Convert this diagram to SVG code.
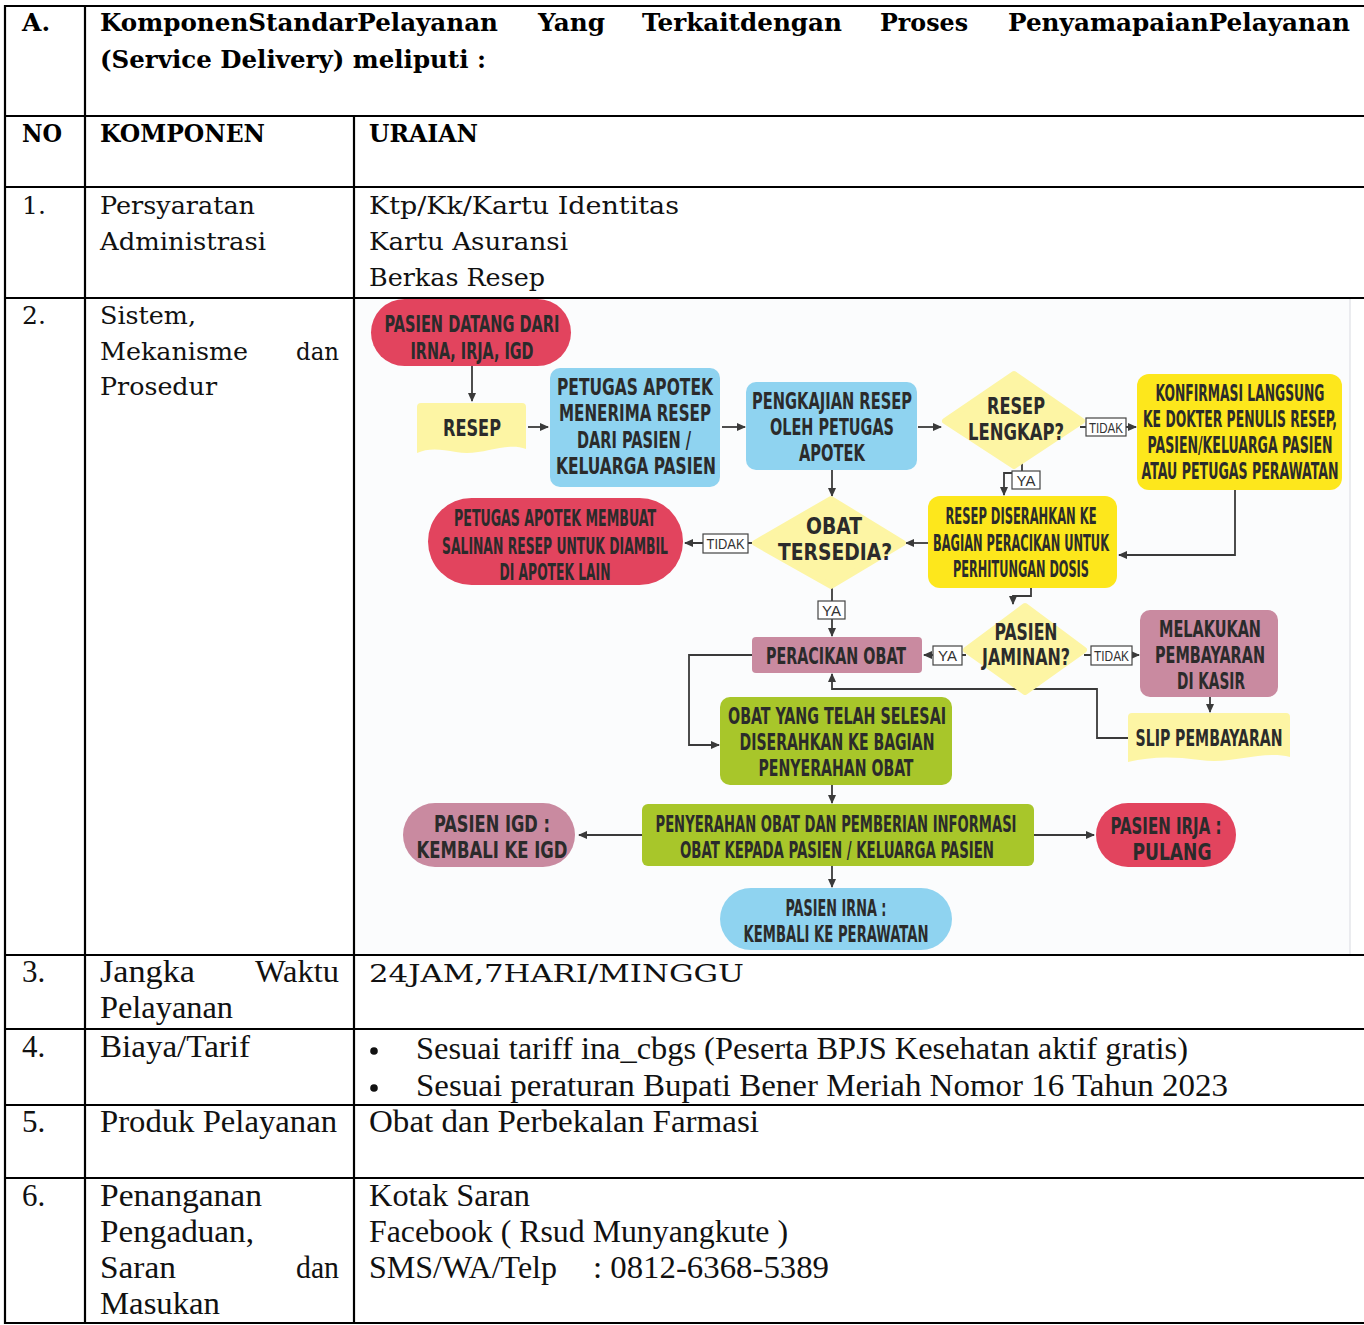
<svg xmlns="http://www.w3.org/2000/svg" width="1364" height="1325" viewBox="0 0 1364 1325">
<defs>
<marker id="ah" markerWidth="9" markerHeight="8" refX="8" refY="4" orient="auto" markerUnits="userSpaceOnUse">
<path d="M0,0 L9,4 L0,8 Z" fill="#3a3a3a"/>
</marker>
<style>
.grid line{stroke:#000;stroke-width:2.2}
.bk{font-family:"DejaVu Serif","Liberation Serif",serif;font-size:25px;fill:#111}
.bkb{font-family:"DejaVu Serif","Liberation Serif",serif;font-size:25px;font-weight:bold;fill:#000}
.tm{font-family:"Liberation Serif","Times New Roman",serif;font-size:31px;fill:#111}
.ft{font-family:"Liberation Sans Narrow","Arial Narrow","DejaVu Sans Condensed","Liberation Sans",sans-serif;font-weight:bold;font-size:23px;fill:#2b2b2b;text-anchor:middle}
.lb{font-family:"Liberation Sans Narrow","Liberation Sans",sans-serif;font-size:15px;fill:#333;text-anchor:middle}
.lbox{fill:#fff;stroke:#444;stroke-width:1.2}
.conn path,.conn line{fill:none;stroke:#3a3a3a;stroke-width:1.8}
.red{fill:#e2445e}
.blue{fill:#8fd3f0}
.lyel{fill:#fdf5a4}
.yel{fill:#fde71c}
.mauve{fill:#c98aa0}
.green{fill:#a8c62a}
.dia{stroke-linejoin:round;stroke-width:6}
</style>
</defs>
<rect width="1364" height="1325" fill="#fff"/>

<!-- flowchart background -->
<rect x="356" y="299" width="994" height="655" fill="#fbfcfd"/>
<line x1="1350" y1="299" x2="1350" y2="954" stroke="#e4e6ea" stroke-width="1.5"/>

<!-- table grid -->
<g class="grid">
<line x1="4" y1="6" x2="1364" y2="6"/>
<line x1="4" y1="116" x2="1364" y2="116"/>
<line x1="4" y1="187" x2="1364" y2="187"/>
<line x1="4" y1="298" x2="1364" y2="298"/>
<line x1="4" y1="955" x2="1364" y2="955"/>
<line x1="4" y1="1029" x2="1364" y2="1029"/>
<line x1="4" y1="1105" x2="1364" y2="1105"/>
<line x1="4" y1="1178" x2="1364" y2="1178"/>
<line x1="4" y1="1323" x2="1364" y2="1323"/>
<line x1="5" y1="5" x2="5" y2="1324"/>
<line x1="85" y1="5" x2="85" y2="1324"/>
<line x1="354" y1="116" x2="354" y2="1324"/>
</g>

<!-- table text -->
<g id="table-text">
<text class="bkb" x="22" y="31">A.</text>
<text class="bkb" x="100" y="31" textLength="398" lengthAdjust="spacingAndGlyphs">KomponenStandarPelayanan</text>
<text class="bkb" x="538" y="31" textLength="67" lengthAdjust="spacingAndGlyphs">Yang</text>
<text class="bkb" x="642" y="31" textLength="200" lengthAdjust="spacingAndGlyphs">Terkaitdengan</text>
<text class="bkb" x="880" y="31" textLength="88" lengthAdjust="spacingAndGlyphs">Proses</text>
<text class="bkb" x="1008" y="31" textLength="342" lengthAdjust="spacingAndGlyphs">PenyamapaianPelayanan</text>
<text class="bkb" x="100" y="68" textLength="386" lengthAdjust="spacingAndGlyphs">(Service Delivery) meliputi :</text>

<text class="bkb" x="22" y="142" textLength="40" lengthAdjust="spacingAndGlyphs">NO</text>
<text class="bkb" x="100" y="142" textLength="165" lengthAdjust="spacingAndGlyphs">KOMPONEN</text>
<text class="bkb" x="369" y="142" textLength="109" lengthAdjust="spacingAndGlyphs">URAIAN</text>

<text class="bk" x="22" y="214">1.</text>
<text class="bk" x="100" y="214" textLength="155" lengthAdjust="spacingAndGlyphs">Persyaratan</text>
<text class="bk" x="100" y="250" textLength="166" lengthAdjust="spacingAndGlyphs">Administrasi</text>
<text class="bk" x="369" y="214" textLength="310" lengthAdjust="spacingAndGlyphs">Ktp/Kk/Kartu Identitas</text>
<text class="bk" x="369" y="250" textLength="199" lengthAdjust="spacingAndGlyphs">Kartu Asuransi</text>
<text class="bk" x="369" y="286" textLength="176" lengthAdjust="spacingAndGlyphs">Berkas Resep</text>

<text class="bk" x="22" y="324">2.</text>
<text class="bk" x="100" y="324" textLength="96" lengthAdjust="spacingAndGlyphs">Sistem,</text>
<text class="bk" x="100" y="360" textLength="148" lengthAdjust="spacingAndGlyphs">Mekanisme</text>
<text class="bk" x="296" y="360" textLength="43" lengthAdjust="spacingAndGlyphs">dan</text>
<text class="bk" x="100" y="395" textLength="117" lengthAdjust="spacingAndGlyphs">Prosedur</text>

<text class="tm" x="22" y="982">3.</text>
<text class="tm" x="100" y="982" textLength="95" lengthAdjust="spacingAndGlyphs">Jangka</text>
<text class="tm" x="255" y="982" textLength="84" lengthAdjust="spacingAndGlyphs">Waktu</text>
<text class="tm" x="100" y="1018" textLength="133" lengthAdjust="spacingAndGlyphs">Pelayanan</text>
<text class="bk" x="369" y="982" font-size="26" textLength="375" lengthAdjust="spacingAndGlyphs">24JAM,7HARI/MINGGU</text>

<text class="tm" x="22" y="1057">4.</text>
<text class="tm" x="100" y="1057" textLength="150" lengthAdjust="spacingAndGlyphs">Biaya/Tarif</text>
<circle cx="374" cy="1051" r="3.8" fill="#111"/>
<circle cx="374" cy="1088" r="3.8" fill="#111"/>
<text class="tm" x="416" y="1059" textLength="772" lengthAdjust="spacingAndGlyphs">Sesuai tariff ina_cbgs (Peserta BPJS Kesehatan aktif gratis)</text>
<text class="tm" x="416" y="1096" textLength="812" lengthAdjust="spacingAndGlyphs">Sesuai peraturan Bupati Bener Meriah Nomor 16 Tahun 2023</text>

<text class="tm" x="22" y="1132">5.</text>
<text class="tm" x="100" y="1132" textLength="237" lengthAdjust="spacingAndGlyphs">Produk Pelayanan</text>
<text class="tm" x="369" y="1132" textLength="390" lengthAdjust="spacingAndGlyphs">Obat dan Perbekalan Farmasi</text>

<text class="tm" x="22" y="1206">6.</text>
<text class="tm" x="100" y="1206" textLength="162" lengthAdjust="spacingAndGlyphs">Penanganan</text>
<text class="tm" x="100" y="1242" textLength="154" lengthAdjust="spacingAndGlyphs">Pengaduan,</text>
<text class="tm" x="100" y="1278" textLength="76" lengthAdjust="spacingAndGlyphs">Saran</text>
<text class="tm" x="296" y="1278" textLength="43" lengthAdjust="spacingAndGlyphs">dan</text>
<text class="tm" x="100" y="1314" textLength="120" lengthAdjust="spacingAndGlyphs">Masukan</text>
<text class="tm" x="369" y="1206" textLength="161" lengthAdjust="spacingAndGlyphs">Kotak Saran</text>
<text class="tm" x="369" y="1242" textLength="419" lengthAdjust="spacingAndGlyphs">Facebook ( Rsud Munyangkute )</text>
<text class="tm" x="369" y="1278" textLength="188" lengthAdjust="spacingAndGlyphs">SMS/WA/Telp</text>
<text class="tm" x="593" y="1278" textLength="236" lengthAdjust="spacingAndGlyphs">: 0812-6368-5389</text>
</g>

<!-- connectors -->
<g id="connectors" class="conn">
<line x1="472" y1="366" x2="472" y2="401" marker-end="url(#ah)"/>
<line x1="528" y1="427" x2="548" y2="427" marker-end="url(#ah)"/>
<line x1="722" y1="427" x2="745" y2="427" marker-end="url(#ah)"/>
<line x1="918" y1="427" x2="941" y2="427" marker-end="url(#ah)"/>
<line x1="832" y1="470" x2="832" y2="496" marker-end="url(#ah)"/>
<line x1="1080" y1="427" x2="1136" y2="427" marker-end="url(#ah)"/>
<path d="M1022,462 V473 H1004 V495" marker-end="url(#ah)"/>
<path d="M1235,490 V555 H1119" marker-end="url(#ah)"/>
<line x1="928" y1="543" x2="906" y2="543" marker-end="url(#ah)"/>
<path d="M1031,588 V596 H1013 V604" marker-end="url(#ah)"/>
<line x1="754" y1="543" x2="685" y2="543" marker-end="url(#ah)"/>
<line x1="832" y1="588" x2="832" y2="636" marker-end="url(#ah)"/>
<line x1="966" y1="655" x2="924" y2="655" marker-end="url(#ah)"/>
<line x1="1084" y1="655" x2="1139" y2="655" marker-end="url(#ah)"/>
<line x1="1210" y1="697" x2="1210" y2="712" marker-end="url(#ah)"/>
<path d="M1128,738 H1097 V689 H832 V674" marker-end="url(#ah)"/>
<path d="M752,655 H689 V745 H719" marker-end="url(#ah)"/>
<line x1="832" y1="785" x2="832" y2="803" marker-end="url(#ah)"/>
<line x1="642" y1="835" x2="579" y2="835" marker-end="url(#ah)"/>
<line x1="1034" y1="835" x2="1094" y2="835" marker-end="url(#ah)"/>
<line x1="832" y1="866" x2="832" y2="887" marker-end="url(#ah)"/>
</g>

<!-- connector labels -->
<g id="labels">
<rect class="lbox" x="1086" y="418" width="40" height="18"/><text class="lb" x="1106" y="433" textLength="34" lengthAdjust="spacingAndGlyphs">TIDAK</text>
<rect class="lbox" x="1012" y="471" width="28" height="18"/><text class="lb" x="1026" y="486">YA</text>
<rect class="lbox" x="703" y="534" width="45" height="19"/><text class="lb" x="725.5" y="549" textLength="38" lengthAdjust="spacingAndGlyphs">TIDAK</text>
<rect class="lbox" x="818" y="601" width="27" height="18"/><text class="lb" x="831.5" y="616">YA</text>
<rect class="lbox" x="933" y="646" width="29" height="19"/><text class="lb" x="947.5" y="661">YA</text>
<rect class="lbox" x="1091" y="646" width="41" height="19"/><text class="lb" x="1111.5" y="661" textLength="35" lengthAdjust="spacingAndGlyphs">TIDAK</text>
</g>

<!-- nodes -->
<g id="n-pasien-datang">
<rect class="red" x="371" y="299" width="200" height="67" rx="33.5"/>
<text class="ft" x="472" y="332" textLength="175" lengthAdjust="spacingAndGlyphs">PASIEN DATANG DARI</text>
<text class="ft" x="472" y="359" textLength="123" lengthAdjust="spacingAndGlyphs">IRNA, IRJA, IGD</text>
</g>
<g id="n-resep">
<path class="lyel" d="M417,407 Q417,403 421,403 H522 Q526,403 526,407 V449 C505,441 482,457 456,452 C440,449 428,448 417,453 Z"/>
<text class="ft" x="472" y="436" textLength="58" lengthAdjust="spacingAndGlyphs">RESEP</text>
</g>
<g id="n-petugas-menerima">
<rect class="blue" x="550" y="368" width="170" height="119" rx="10"/>
<text class="ft" x="635" y="395" textLength="156" lengthAdjust="spacingAndGlyphs">PETUGAS APOTEK</text>
<text class="ft" x="635" y="421" textLength="152" lengthAdjust="spacingAndGlyphs">MENERIMA RESEP</text>
<text class="ft" x="634" y="448" textLength="114" lengthAdjust="spacingAndGlyphs">DARI PASIEN /</text>
<text class="ft" x="636" y="474" textLength="160" lengthAdjust="spacingAndGlyphs">KELUARGA PASIEN</text>
</g>
<g id="n-pengkajian">
<rect class="blue" x="746" y="382" width="171" height="88" rx="10"/>
<text class="ft" x="832" y="409" textLength="160" lengthAdjust="spacingAndGlyphs">PENGKAJIAN RESEP</text>
<text class="ft" x="832" y="435" textLength="124" lengthAdjust="spacingAndGlyphs">OLEH PETUGAS</text>
<text class="ft" x="832" y="461" textLength="66" lengthAdjust="spacingAndGlyphs">APOTEK</text>
</g>
<g id="n-resep-lengkap">
<path class="lyel dia" stroke="#fdf5a4" d="M1014,374 L1082,421 L1014,466 L945,421 Z"/>
<text class="ft" x="1016" y="414" font-size="26" textLength="58" lengthAdjust="spacingAndGlyphs">RESEP</text>
<text class="ft" x="1016" y="440" font-size="26" textLength="96" lengthAdjust="spacingAndGlyphs">LENGKAP?</text>
</g>
<g id="n-konfirmasi">
<rect class="yel" x="1137" y="374" width="205" height="116" rx="12"/>
<text class="ft" x="1240" y="401" font-size="22" textLength="169" lengthAdjust="spacingAndGlyphs">KONFIRMASI LANGSUNG</text>
<text class="ft" x="1240" y="427" font-size="22" textLength="194" lengthAdjust="spacingAndGlyphs">KE DOKTER PENULIS RESEP,</text>
<text class="ft" x="1240" y="453" font-size="22" textLength="185" lengthAdjust="spacingAndGlyphs">PASIEN/KELUARGA PASIEN</text>
<text class="ft" x="1240" y="479" font-size="22" textLength="197" lengthAdjust="spacingAndGlyphs">ATAU PETUGAS PERAWATAN</text>
</g>
<g id="n-resep-diserahkan">
<rect class="yel" x="928" y="496" width="189" height="92" rx="12"/>
<text class="ft" x="1021" y="524" font-size="21" textLength="151" lengthAdjust="spacingAndGlyphs">RESEP DISERAHKAN KE</text>
<text class="ft" x="1021" y="551" font-size="21" textLength="176" lengthAdjust="spacingAndGlyphs">BAGIAN PERACIKAN UNTUK</text>
<text class="ft" x="1021" y="577" font-size="21" textLength="136" lengthAdjust="spacingAndGlyphs">PERHITUNGAN DOSIS</text>
</g>
<g id="n-obat-tersedia">
<path class="lyel dia" stroke="#fdf5a4" d="M831,499 L903,543 L831,586 L755,543 Z"/>
<text class="ft" x="834" y="534" font-size="27" textLength="56" lengthAdjust="spacingAndGlyphs">OBAT</text>
<text class="ft" x="835" y="560" font-size="27" textLength="114" lengthAdjust="spacingAndGlyphs">TERSEDIA?</text>
</g>
<g id="n-petugas-membuat">
<rect class="red" x="428" y="498" width="255" height="87" rx="43.5"/>
<text class="ft" x="555" y="526" font-size="21" textLength="202" lengthAdjust="spacingAndGlyphs">PETUGAS APOTEK MEMBUAT</text>
<text class="ft" x="555" y="554" font-size="21" textLength="226" lengthAdjust="spacingAndGlyphs">SALINAN RESEP UNTUK DIAMBIL</text>
<text class="ft" x="555" y="580" font-size="21" textLength="111" lengthAdjust="spacingAndGlyphs">DI APOTEK LAIN</text>
</g>
<g id="n-peracikan">
<rect class="mauve" x="752" y="637" width="170" height="36" rx="4"/>
<text class="ft" x="836" y="664" textLength="140" lengthAdjust="spacingAndGlyphs">PERACIKAN OBAT</text>
</g>
<g id="n-pasien-jaminan">
<path class="lyel dia" stroke="#fdf5a4" d="M1025,606 L1084,650 L1025,692 L966,650 Z"/>
<text class="ft" x="1026" y="640" textLength="63" lengthAdjust="spacingAndGlyphs">PASIEN</text>
<text class="ft" x="1026" y="665" textLength="88" lengthAdjust="spacingAndGlyphs">JAMINAN?</text>
</g>
<g id="n-melakukan">
<rect class="mauve" x="1140" y="610" width="138" height="87" rx="10"/>
<text class="ft" x="1210" y="637" textLength="102" lengthAdjust="spacingAndGlyphs">MELAKUKAN</text>
<text class="ft" x="1210" y="663" textLength="110" lengthAdjust="spacingAndGlyphs">PEMBAYARAN</text>
<text class="ft" x="1211" y="689" textLength="68" lengthAdjust="spacingAndGlyphs">DI KASIR</text>
</g>
<g id="n-slip">
<path class="lyel" d="M1128,717 Q1128,713 1132,713 H1286 Q1290,713 1290,717 V757 C1262,750 1232,765 1200,760 C1170,756 1150,757 1128,762 Z"/>
<text class="ft" x="1209" y="746" textLength="147" lengthAdjust="spacingAndGlyphs">SLIP PEMBAYARAN</text>
</g>
<g id="n-obat-selesai">
<rect class="green" x="720" y="697" width="232" height="88" rx="10"/>
<text class="ft" x="837" y="724" textLength="218" lengthAdjust="spacingAndGlyphs">OBAT YANG TELAH SELESAI</text>
<text class="ft" x="837" y="750" textLength="195" lengthAdjust="spacingAndGlyphs">DISERAHKAN KE BAGIAN</text>
<text class="ft" x="836" y="776" textLength="155" lengthAdjust="spacingAndGlyphs">PENYERAHAN OBAT</text>
</g>
<g id="n-penyerahan">
<rect class="green" x="642" y="804" width="392" height="62" rx="6"/>
<text class="ft" x="836" y="832" font-size="22" textLength="361" lengthAdjust="spacingAndGlyphs">PENYERAHAN OBAT DAN PEMBERIAN INFORMASI</text>
<text class="ft" x="837" y="858" font-size="22" textLength="314" lengthAdjust="spacingAndGlyphs">OBAT KEPADA PASIEN / KELUARGA PASIEN</text>
</g>
<g id="n-pasien-igd">
<rect class="mauve" x="403" y="803" width="172" height="64" rx="32"/>
<text class="ft" x="492" y="832" font-size="24" textLength="116" lengthAdjust="spacingAndGlyphs">PASIEN IGD :</text>
<text class="ft" x="492" y="858" font-size="24" textLength="151" lengthAdjust="spacingAndGlyphs">KEMBALI KE IGD</text>
</g>
<g id="n-pasien-irja">
<rect class="red" x="1096" y="803" width="140" height="64" rx="32"/>
<text class="ft" x="1166" y="834" font-size="23" textLength="111" lengthAdjust="spacingAndGlyphs">PASIEN IRJA :</text>
<text class="ft" x="1172" y="860" font-size="23" textLength="79" lengthAdjust="spacingAndGlyphs">PULANG</text>
</g>
<g id="n-pasien-irna">
<rect class="blue" x="720" y="888" width="232" height="62" rx="31"/>
<text class="ft" x="836" y="916" font-size="21" textLength="101" lengthAdjust="spacingAndGlyphs">PASIEN IRNA :</text>
<text class="ft" x="836" y="942" font-size="21" textLength="185" lengthAdjust="spacingAndGlyphs">KEMBALI KE PERAWATAN</text>
</g>
</svg>
